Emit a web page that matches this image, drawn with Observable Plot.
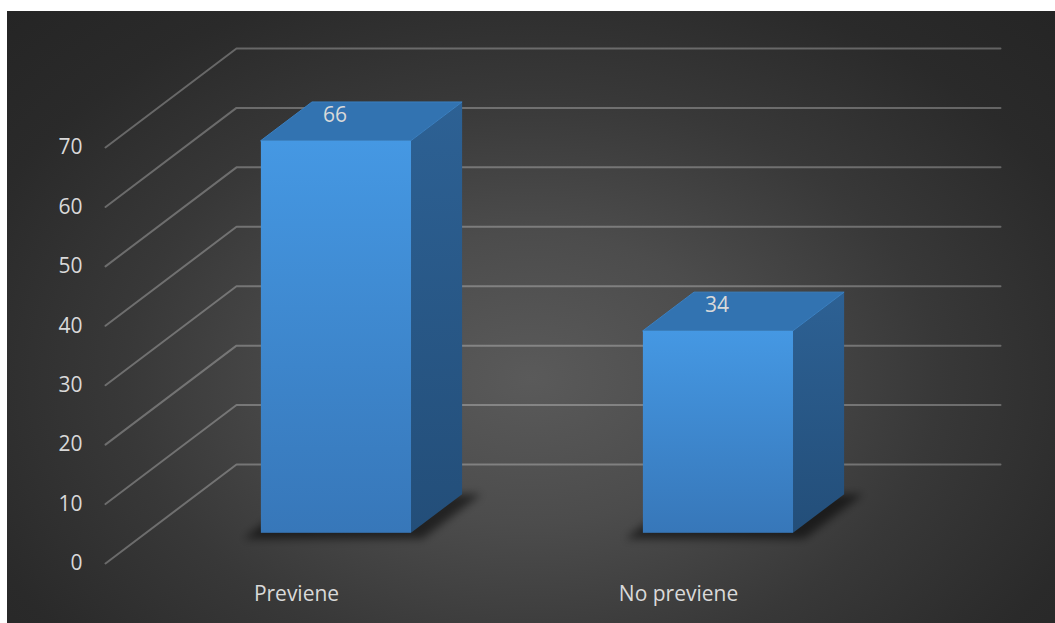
<!DOCTYPE html>
<html>
<head>
<meta charset="utf-8">
<script src="https://cdn.jsdelivr.net/npm/d3@7"></script>
<script src="https://cdn.jsdelivr.net/npm/@observablehq/plot@0.6"></script>
<style>
  html, body { margin: 0; padding: 0; background: #ffffff; }
  #panel {
    position: absolute; left: 7px; top: 11px; width: 1048px; height: 612px;
    background: radial-gradient(ellipse farthest-corner at 50% 60%, #5a5a5a 0%, #4c4c4c 28%, #383838 55%, #2a2a2a 80%, #252525 100%);
    overflow: hidden;
  }
  #panel svg { display: block; }
</style>
</head>
<body>
<div id="panel"></div>
<script>
// ---- data ----
const categories = ["Previene", "No previene"];
const values = [66, 34];
const yTicks = [0, 10, 20, 30, 40, 50, 60, 70];

// ---- oblique 3D projection in scale units ----
const DX = 0.3429;   // depth shift along x (category units)
const DY = 16.66;    // depth shift along y (value units)
const BW = 0.393;    // bar width (category units)
const Z0 = 0.305, Z1 = 0.695; // bar depth extent

const bars = categories.map((c, i) => ({c, i, v: values[i], xl: i + 0.5 - BW / 2, xr: i + 0.5 + BW / 2}));

const grid = yTicks.flatMap(t => [
  {t, x: 0, y: t},
  {t, x: DX, y: t + DY},
  {t, x: 2 + DX, y: t + DY}
]);

const front = bars.map(b => ({c: b.c, x1: b.xl + DX * Z0, x2: b.xr + DX * Z0, y1: DY * Z0, y2: b.v + DY * Z0}));
const topFace = bars.flatMap(b => [Z0, Z1].map(z => ({c: b.c, y: b.v + DY * z, x1: b.xl + DX * z, x2: b.xr + DX * z})));
const side = bars.flatMap(b => [Z0, Z1].map(z => ({c: b.c, x: b.xr + DX * z, y1: DY * z, y2: b.v + DY * z})));
const shadow = bars.flatMap(b => [Z0 - 0.06, Z1].map(z => ({c: b.c, y: DY * z, x1: b.xl - 0.025 + DX * z, x2: b.xr + 0.05 + DX * z})));

const chart = Plot.plot({
  width: 1048,
  height: 612,
  marginLeft: 98,
  marginRight: 55,
  marginTop: 136,
  marginBottom: 60,
  x: {type: "linear", domain: [0, 2 + DX], axis: null},
  y: {domain: [0, 70], axis: null},
  style: {background: "transparent", color: "#d9d9d9", fontFamily: "'Open Sans', sans-serif", fontSize: "21px", overflow: "visible"},
  marks: [
    Plot.line(grid, {x: "x", y: "y", z: "t", stroke: "#ffffff", strokeOpacity: 0.28, strokeWidth: 2, curve: "linear"}),
    Plot.areaX(shadow, {y: "y", x1: "x1", x2: "x2", z: "c", fill: "#010101", fillOpacity: 0.55, curve: "linear"}),
    Plot.areaY(side, {x: "x", y1: "y1", y2: "y2", z: "c", fill: "url(#sideGrad)", curve: "linear"}),
    Plot.areaX(topFace, {y: "y", x1: "x1", x2: "x2", z: "c", fill: "#3273b1", stroke: "#3a80c2", strokeWidth: 1, curve: "linear"}),
    Plot.rect(front, {x1: "x1", x2: "x2", y1: "y1", y2: "y2", fill: "url(#frontGrad)"}),
    Plot.text(yTicks, {x: 0, y: d => d, text: d => String(d), textAnchor: "end", dx: -23, fill: "#d9d9d9", fontSize: 21}),
    Plot.text(categories, {x: (d, i) => i + 0.5, y: 0, dy: 31, text: d => d, fill: "#d9d9d9", fontSize: 21}),
    Plot.text(bars, {x: b => b.i + 0.5 + DX * 0.5, y: b => b.v + DY * 0.5, dx: -27, dy: -7, text: b => String(b.v), fill: "#d9d9d9", fontSize: 21})
  ]
});

document.getElementById("panel").appendChild(chart);

// gradients and blur
const svg = d3.select(chart);
const defs = svg.insert("defs", ":first-child");
const fg = defs.append("linearGradient").attr("id", "frontGrad").attr("x1", 0).attr("y1", 0).attr("x2", 0).attr("y2", 1);
fg.append("stop").attr("offset", "0%").attr("stop-color", "#4598e3");
fg.append("stop").attr("offset", "100%").attr("stop-color", "#3777b9");
const sg = defs.append("linearGradient").attr("id", "sideGrad").attr("x1", 0).attr("y1", 0).attr("x2", 0).attr("y2", 1);
sg.append("stop").attr("offset", "0%").attr("stop-color", "#2d6194");
sg.append("stop").attr("offset", "100%").attr("stop-color", "#234e79");
const blur = defs.append("filter").attr("id", "shadowBlur").attr("x", "-20%").attr("y", "-50%").attr("width", "140%").attr("height", "200%");
blur.append("feGaussianBlur").attr("stdDeviation", 4);
svg.selectAll('g[fill="#010101"]').attr("filter", "url(#shadowBlur)");
</script>
</body>
</html>
